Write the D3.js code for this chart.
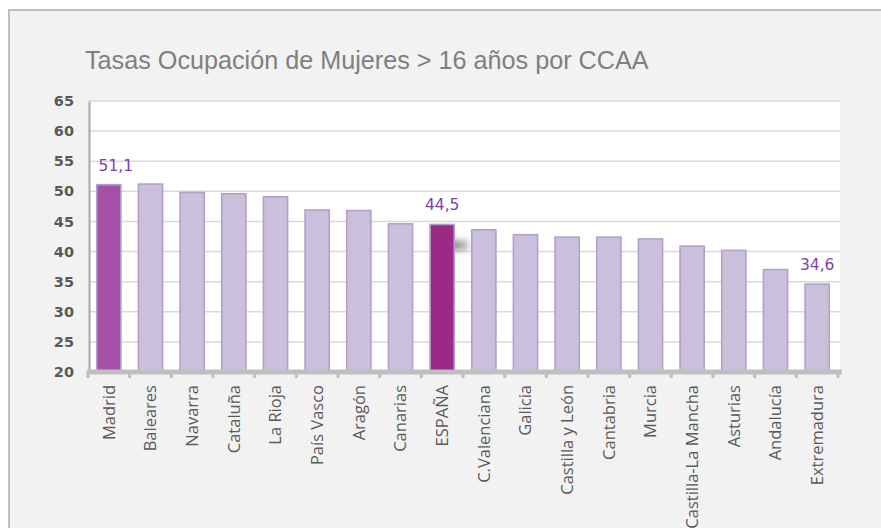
<!DOCTYPE html>
<html><head><meta charset="utf-8">
<script src="https://cdn.jsdelivr.net/npm/d3@7"></script>
<style>html,body{margin:0;padding:0;background:#fff;overflow:hidden}</style>
</head><body>
<svg id="c" width="881" height="528"></svg>
<script>
const categories = ["Madrid","Baleares","Navarra","Cataluña","La Rioja","País Vasco","Aragón","Canarias","ESPAÑA","C.Valenciana","Galicia","Castilla y León","Cantabria","Murcia","Castilla-La Mancha","Asturias","Andalucía","Extremadura"];
const values = [51.1,51.2,49.8,49.6,49.1,46.9,46.8,44.6,44.5,43.6,42.8,42.4,42.4,42.1,40.9,40.2,37.0,34.6];
const labelled = ["Madrid","ESPAÑA","Extremadura"];
const yTicks = [20,25,30,35,40,45,50,55,60,65];
const title = "Tasas Ocupación de Mujeres > 16 años por CCAA";

const svg = d3.select("#c");
svg.append("rect").attr("x",9).attr("y",10).attr("width",900).attr("height",540)
  .attr("fill","#f2f2f2").attr("stroke","#bfbfbf").attr("stroke-width",2);

svg.append("text").attr("x",85).attr("y",69).text(title)
  .attr("font-family","Liberation Sans, Arial, sans-serif").attr("font-size",25.2)
  .attr("fill","#7f7f7f");

const x = d3.scaleBand().domain(categories).range([88,838]).paddingInner(0.42).paddingOuter(0.21);
const y = d3.scaleLinear().domain([20,65]).range([372,101]);

svg.append("rect").attr("x",89).attr("y",y(65)).attr("width",751).attr("height",y(20)-y(65)).attr("fill","#fff");

// grid
svg.append("g").selectAll("line").data(yTicks.slice(1)).join("line")
  .attr("x1",89).attr("x2",840).attr("y1",d=>y(d)).attr("y2",d=>y(d))
  .attr("stroke","#d9d9d9").attr("stroke-width",1.5);

// y axis
const ya = svg.append("g").attr("transform","translate(89,0)")
  .call(d3.axisLeft(y).tickValues(yTicks).tickSize(0).tickPadding(15));
ya.select(".domain").attr("stroke","#a6a6a6").attr("stroke-width",2);
ya.selectAll("text").attr("font-family","DejaVu Sans, sans-serif").attr("font-weight","bold")
  .attr("font-size",14.5).attr("fill","#595959");

// shadow artifact next to ESPAÑA
const defs = svg.append("defs");
const g1 = defs.append("linearGradient").attr("id","sh").attr("x1",0).attr("x2",1).attr("y1",0).attr("y2",0);
g1.append("stop").attr("offset",0).attr("stop-color","#8a8a8a").attr("stop-opacity",1);
g1.append("stop").attr("offset",0.6).attr("stop-color","#a5a5a5").attr("stop-opacity",0.8);
g1.append("stop").attr("offset",1).attr("stop-color","#cccccc").attr("stop-opacity",0.2);
defs.append("filter").attr("id","bl").attr("y","-100%").attr("height","300%")
  .append("feGaussianBlur").attr("stdDeviation","0 3");
const iE = categories.indexOf("ESPAÑA");
svg.append("rect").attr("x",x("ESPAÑA")+x.bandwidth()).attr("y",y(41.9))
  .attr("width",x(categories[iE+1])-x("ESPAÑA")-x.bandwidth()).attr("height",y(40.2)-y(41.9))
  .attr("fill","url(#sh)").attr("filter","url(#bl)");

// bars
const fillOf = c => c==="Madrid" ? "#a651a8" : c==="ESPAÑA" ? "#9b2a86" : "#cbc0dc";
svg.append("g").selectAll("rect").data(categories).join("rect")
  .attr("x",d=>x(d)).attr("width",x.bandwidth())
  .attr("y",(d,i)=>y(values[i])).attr("height",(d,i)=>y(20)-y(values[i]))
  .attr("fill",fillOf).attr("stroke","#b39fce").attr("stroke-width",1.6);

// data labels
const lblDx = {"Madrid":7};
svg.append("g").selectAll("text").data(categories.filter(c=>labelled.includes(c))).join("text")
  .attr("x",d=>x(d)+x.bandwidth()/2+(lblDx[d]||0))
  .attr("y",d=>y(values[categories.indexOf(d)])-14)
  .attr("text-anchor","middle").attr("font-family","DejaVu Sans, sans-serif").attr("font-size",15.5)
  .attr("fill","#7e3fae").text(d=>d3.format(".1f")(values[categories.indexOf(d)]).replace(".",","));

// x axis
const xa = svg.append("g").attr("transform","translate(0,372)")
  .call(d3.axisBottom(x).tickSize(0).tickPadding(12));
xa.select(".domain").remove();
svg.append("line").attr("x1",87).attr("x2",842).attr("y1",372).attr("y2",372)
  .attr("stroke","#bfbfbf").attr("stroke-width",5);
const tickPos = d3.range(categories.length+1).map(i=>x.range()[0]+i*x.step());
svg.append("g").selectAll("rect").data(tickPos).join("rect")
  .attr("x",d=>d-1.5).attr("y",372).attr("width",3).attr("height",6).attr("fill","#bfbfbf");
xa.selectAll("text").attr("transform","rotate(-90)").attr("text-anchor","end")
  .attr("x",-13).attr("y",0).attr("dy","0.35em")
  .attr("font-family","Open Sans, sans-serif").attr("font-size",16.5).attr("fill","#595959");
</script>
</body></html>
